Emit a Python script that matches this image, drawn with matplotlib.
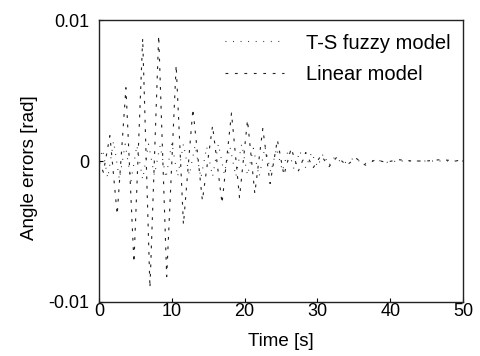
import matplotlib
matplotlib.use("Agg")
import matplotlib.pyplot as plt

plt.rcParams['font.family'] = ['Liberation Sans', 'DejaVu Sans']

# Linear model (dashed) - peaks/troughs
t_linear = [0, 0.6, 1.5, 2.5, 3.7, 4.8, 6.0, 7.0, 8.2, 9.3, 10.6, 11.6, 12.9,
            14.2, 15.6, 16.9, 18.2, 19.3, 20.4, 21.4, 22.5, 23.5, 24.5, 25.4,
            26.4, 27.4, 28.4, 29.4, 30.5, 31.6, 32.7, 34.0, 35.3, 36.6, 38.0,
            39.4, 41.0, 43.0, 45.0, 47.0, 49.0, 50.0]
e_linear = [0, -0.0008, 0.0018, -0.0038, 0.0052, -0.0072, 0.0087, -0.0090,
            0.0089, -0.0082, 0.0068, -0.0045, 0.0037, -0.0028, 0.0025, -0.0030,
            0.0034, -0.0026, 0.0029, -0.0023, 0.0023, -0.0016, 0.0015, -0.0010,
            0.0009, -0.0007, 0.0006, -0.0005, 0.0004, -0.0004, 0.0003, -0.0003,
            0.0002, -0.0003, 0.0001, -0.0001, 0.0001, 0.0, 0.0, 0.0001, 0.0, 0.0001]

# T-S fuzzy model (dotted)
t_fuzzy = [0, 0.5, 1.2, 2.0, 2.8, 3.6, 4.4, 5.2, 6.0, 6.8, 7.6, 8.4, 9.2, 10.0,
           10.8, 11.6, 12.4, 13.2, 14.0, 14.8, 15.6, 16.4, 17.2, 18.0, 18.8,
           19.6, 20.4, 21.2, 22.0, 22.8, 23.6, 24.4, 25.2, 26.0, 26.8, 27.6,
           28.4, 29.2, 30.0, 30.8, 31.6, 32.4, 33.5, 35.0, 36.5, 38.0, 39.5,
           41.0, 44.0, 47.0, 50.0]
e_fuzzy = [0, 0.0008, -0.0012, 0.0014, -0.0013, 0.0012, -0.0014, 0.0011,
           -0.0013, 0.0012, -0.0010, 0.0011, -0.0012, 0.0013, -0.0011, 0.0012,
           -0.0010, 0.0011, -0.0012, 0.0010, -0.0011, 0.0012, -0.0009, 0.0010,
           -0.0011, 0.0012, -0.0010, 0.0009, -0.0011, 0.0010, -0.0008, 0.0009,
           -0.0007, 0.0008, -0.0006, 0.0007, -0.0005, 0.0006, -0.0004, 0.0005,
           -0.0003, 0.0003, -0.0002, 0.0002, -0.0002, 0.0001, -0.0001, 0.0,
           0.0, 0.0, 0.0]

x_ticks = [0, 10, 20, 30, 40, 50]
y_ticks = [-0.01, 0, 0.01]
y_ticklabels = ['-0.01', '0', '0.01']

fig = plt.figure(figsize=(4.81, 3.56), dpi=100)
ax = fig.add_axes([0.2058, 0.1517, 0.7568, 0.7921])

ax.plot(t_fuzzy, e_fuzzy, color='#222222', lw=0.8, linestyle=(0, (0.8, 6)),
        label='T-S fuzzy model')
ax.plot(t_linear, e_linear, color='#222222', lw=0.8, linestyle=(0, (2.5, 6)),
        label='Linear model')

ax.set_xlim(0, 50)
ax.set_ylim(-0.01, 0.01)
ax.set_xticks(x_ticks)
ax.set_xticklabels([str(v) for v in x_ticks])
ax.set_yticks(y_ticks)
ax.set_yticklabels(y_ticklabels)
ax.tick_params(direction='in', length=3, labelsize=13)
ax.tick_params(axis='x', pad=1)
ax.tick_params(axis='y', pad=7)
for s in ax.spines.values():
    s.set_linewidth(1.0)
    s.set_color('#222222')

ax.set_xlabel('Time [s]', fontsize=13.5, labelpad=9)
ax.set_ylabel('Angle errors [rad]', fontsize=13.5)
ax.yaxis.set_label_coords(-0.168, 0.475)

leg = ax.legend(loc='upper right', bbox_to_anchor=(0.966, 0.952), frameon=False,
                fontsize=14.5, handlelength=2.9, handletextpad=1.1,
                labelspacing=0.62, borderaxespad=0, borderpad=0)
for h in leg.get_lines():
    h.set_linewidth(0.8)

fig.savefig('out.png', dpi=100)
